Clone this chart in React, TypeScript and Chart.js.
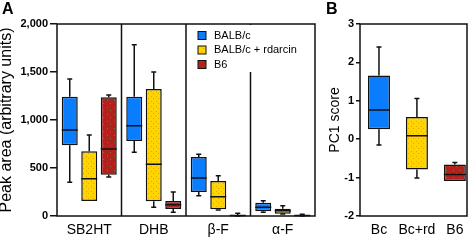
import React, { useEffect, useRef } from 'react';
import { Chart, registerables } from 'chart.js';
Chart.register(...registerables);

// ---- data ----
const categoriesA = ['SB2HT', 'DHB', 'β-F', 'α-F'];
const seriesNamesA = ['BALB/c', 'BALB/c + rdarcin', 'B6'];
// each entry: [min, q1, median, q3, max]
const balbcA = [
  [351, 736, 896, 1243, 1427],
  [663, 781, 941, 1243, 1785],
  [212, 250, 396, 615, 642],
  [38, 49, 91, 139, 160],
];
const rdarcinA = [
  [156, 156, 389, 674, 844],
  [91, 153, 538, 1323, 1500],
  [62, 70, 201, 365, 420],
  [20, 24, 55, 76, 107],
];
const b6A = [
  [406, 430, 698, 1236, 1260],
  [38, 73, 118, 156, 250],
  [0, 3, 6, 10, 28],
  [0, 2, 4, 7, 18],
];
const yTicksA = [0, 500, 1000, 1500, 2000];

const categoriesB = ['Bc', 'Bc+rd', 'B6'];
const pc1B = [
  [-0.15, 0.26, 0.76, 1.66, 2.4],
  [-1.01, -0.79, 0.09, 0.58, 1.06],
  [-1.09, -1.09, -0.92, -0.66, -0.61],
];
const yTicksB = [-2, -1, 0, 1, 2, 3];

const FONT = '"Liberation Sans", Arial, Helvetica, sans-serif';
const BLUE = '#0a7dff';
const INK = '#111111';

function stipple(base: string, dot: string, size: number, dots: number[][]) {
  const c = document.createElement('canvas');
  c.width = size;
  c.height = size;
  const g = c.getContext('2d')!;
  g.fillStyle = base;
  g.fillRect(0, 0, size, size);
  g.fillStyle = dot;
  dots.forEach(([x, y]) => g.fillRect(x, y, 1, 1));
  return g.createPattern(c, 'repeat')!;
}

const boxPlugin = {
  id: 'boxWhiskers',
  afterDatasetsDraw(chart: any) {
    const ctx = chart.ctx;
    const ys = chart.scales.y;
    chart.data.datasets.forEach((ds: any, di: number) => {
      const meta = chart.getDatasetMeta(di);
      meta.data.forEach((bar: any, i: number) => {
        const s = ds.stats[i];
        const { x, width } = bar.getProps(['x', 'width'], true);
        const p = (v: number) => ys.getPixelForValue(v);
        const cap = 2.5;
        ctx.save();
        ctx.strokeStyle = INK;
        ctx.lineWidth = 1.5;
        ctx.beginPath();
        if (s[4] > s[3]) {
          ctx.moveTo(x, p(s[3]));
          ctx.lineTo(x, p(s[4]));
        }
        ctx.moveTo(x - cap, p(s[4]));
        ctx.lineTo(x + cap, p(s[4]));
        if (s[0] < s[1]) {
          ctx.moveTo(x, p(s[1]));
          ctx.lineTo(x, p(s[0]));
          ctx.moveTo(x - cap, p(s[0]));
          ctx.lineTo(x + cap, p(s[0]));
        }
        ctx.moveTo(x - width / 2, p(s[2]));
        ctx.lineTo(x + width / 2, p(s[2]));
        ctx.stroke();
        ctx.restore();
      });
    });
  },
};

const frameA = {
  id: 'frameA',
  afterDraw(chart: any) {
    const ctx = chart.ctx;
    const { left, right, top, bottom } = chart.chartArea;
    const xs = chart.scales.x;
    const divs: number[] = [];
    for (let i = 0; i < categoriesA.length - 1; i++) {
      divs.push((xs.getPixelForTick(i) + xs.getPixelForTick(i + 1)) / 2);
    }
    ctx.save();
    ctx.strokeStyle = INK;
    ctx.lineWidth = 1.5;
    ctx.beginPath();
    divs.forEach((d) => {
      ctx.moveTo(d, top);
      ctx.lineTo(d, bottom);
    });
    ctx.stroke();
    // legend
    const lx = divs[1] + 12;
    const legTop = top + 1;
    const rowH = 14.5;
    ctx.fillStyle = '#ffffff';
    ctx.fillRect(divs[1] + 1, legTop, right - divs[1] - 2, 47);
    chart.data.datasets.forEach((ds: any, i: number) => {
      const cy = top + 11.5 + i * rowH;
      ctx.fillStyle = ds.backgroundColor;
      ctx.fillRect(lx, cy - 4, 8, 8);
      ctx.lineWidth = 1;
      ctx.strokeStyle = INK;
      ctx.strokeRect(lx, cy - 4, 8, 8);
      ctx.fillStyle = '#000';
      ctx.font = `11px ${FONT}`;
      ctx.textBaseline = 'middle';
      ctx.textAlign = 'left';
      ctx.fillText(ds.label, lx + 16, cy);
    });
    ctx.lineWidth = 1.5;
    ctx.strokeStyle = INK;
    ctx.strokeRect(left, top, right - left, bottom - top);
    ctx.restore();
  },
};

const frameB = {
  id: 'frameB',
  afterDraw(chart: any) {
    const ctx = chart.ctx;
    const { left, right, top, bottom } = chart.chartArea;
    ctx.save();
    ctx.lineWidth = 1.5;
    ctx.strokeStyle = INK;
    ctx.strokeRect(left, top, right - left, bottom - top);
    ctx.restore();
  },
};

export default function App() {
  const refA = useRef<HTMLCanvasElement>(null);
  const refB = useRef<HTMLCanvasElement>(null);

  useEffect(() => {
    Chart.defaults.font.family = FONT;
    Chart.defaults.color = '#000';
    const yellow = stipple('#ffd400', '#e0a800', 5, [[1, 1], [3, 3]]);
    const red = stipple('#b3201e', '#6f7a2a', 7, [[2, 2], [5, 5]]);
    const barStyle = { borderColor: INK, borderWidth: 1.5, borderSkipped: false as const };

    const chartA = new Chart(refA.current!, {
      type: 'bar',
      data: {
        labels: categoriesA,
        datasets: [
          { label: seriesNamesA[0], data: balbcA.map((s) => [s[1], s[3]]), stats: balbcA, backgroundColor: BLUE, ...barStyle } as any,
          { label: seriesNamesA[1], data: rdarcinA.map((s) => [s[1], s[3]]), stats: rdarcinA, backgroundColor: yellow, ...barStyle } as any,
          { label: seriesNamesA[2], data: b6A.map((s) => [s[1], s[3]]), stats: b6A, backgroundColor: red, ...barStyle } as any,
        ],
      },
      options: {
        responsive: false,
        animation: false,
        devicePixelRatio: 1,
        layout: { padding: { top: 24, right: 10, left: 0, bottom: 0 } },
        datasets: { bar: { categoryPercentage: 0.907, barPercentage: 0.82 } },
        plugins: { legend: { display: false }, tooltip: { enabled: false } },
        scales: {
          x: {
            grid: { display: false, drawTicks: false, tickLength: 0 },
            border: { display: false },
            ticks: { font: { size: 14 }, color: '#000', padding: 6 },
            afterFit: (s: any) => { s.height = 24; },
          },
          y: {
            min: 0,
            max: 2000,
            afterBuildTicks: (a: any) => { a.ticks = yTicksA.map((v) => ({ value: v })); },
            grid: { drawOnChartArea: false, drawTicks: true, tickLength: 7, color: INK, lineWidth: 1.5 },
            border: { display: false },
            ticks: { font: { size: 11, weight: 'bold' }, color: '#000', padding: 2, callback: (v: any) => Number(v).toLocaleString('en-US') },
            title: { display: true, text: 'Peak area (arbitrary units)', font: { size: 16, lineHeight: 0.8 }, color: '#000', padding: { top: 0, bottom: 0 } },
            afterFit: (s: any) => { s.width = 57; },
          },
        },
      } as any,
      plugins: [boxPlugin, frameA],
    });

    const chartB = new Chart(refB.current!, {
      type: 'bar',
      data: {
        datasets: [
          {
            label: 'PC1',
            data: pc1B.map((s, i) => ({ x: i + 1, y: [s[1], s[3]] })),
            stats: pc1B,
            backgroundColor: [BLUE, yellow, red],
            ...barStyle,
            barPercentage: 0.58,
            categoryPercentage: 1,
          } as any,
        ],
      },
      options: {
        responsive: false,
        animation: false,
        devicePixelRatio: 1,
        layout: { padding: { top: 24, right: 6, left: 0, bottom: 0 } },
        plugins: { legend: { display: false }, tooltip: { enabled: false } },
        scales: {
          x: {
            type: 'linear',
            min: 0.5,
            max: 3.32,
            offset: false,
            afterBuildTicks: (a: any) => { a.ticks = categoriesB.map((_, i) => ({ value: i + 1 })); },
            grid: { display: false, drawTicks: false, tickLength: 0 },
            border: { display: false },
            ticks: { font: { size: 14 }, color: '#000', padding: 6, callback: (_v: any, i: number) => categoriesB[i] },
            afterFit: (s: any) => { s.height = 24; },
          },
          y: {
            min: -2,
            max: 3,
            afterBuildTicks: (a: any) => { a.ticks = yTicksB.map((v) => ({ value: v })); },
            grid: { drawOnChartArea: false, drawTicks: true, tickLength: 4, color: INK, lineWidth: 1.5 },
            border: { display: false },
            ticks: { font: { size: 11, weight: 'bold' }, color: '#000', padding: 2 },
            title: { display: true, text: 'PC1 score', font: { size: 14 }, color: '#000', padding: { top: 2, bottom: 0 } },
            afterFit: (s: any) => { s.width = 35; },
          },
        },
      } as any,
      plugins: [boxPlugin, frameB],
    });

    return () => {
      chartA.destroy();
      chartB.destroy();
    };
  }, []);

  const panelLabel: React.CSSProperties = {
    position: 'absolute',
    top: 1,
    fontFamily: FONT,
    fontWeight: 'bold',
    fontSize: 16,
    lineHeight: 1,
  };

  return (
    <div style={{ position: 'absolute', left: 0, top: 0, width: 473, height: 240, background: '#fff' }}>
      <canvas ref={refA} width={325} height={240} style={{ position: 'absolute', left: 0, top: 0 }} />
      <canvas ref={refB} width={148} height={240} style={{ position: 'absolute', left: 325, top: 0 }} />
      <div style={{ ...panelLabel, left: 2 }}>A</div>
      <div style={{ ...panelLabel, left: 326 }}>B</div>
    </div>
  );
}
